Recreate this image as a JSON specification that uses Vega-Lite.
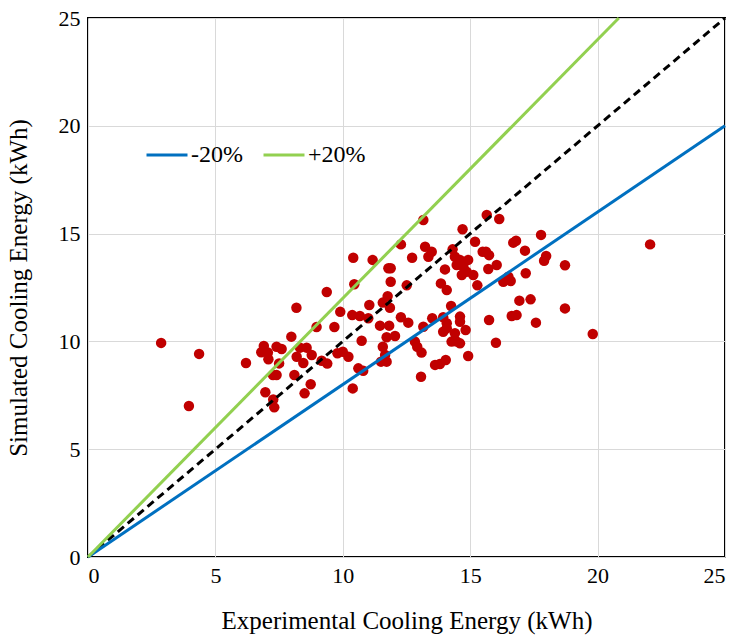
{
  "$schema": "https://vega.github.io/schema/vega-lite/v6.json",
  "width": 637,
  "height": 539,
  "autosize": {"type": "none"},
  "padding": {"left": 88, "top": 18, "right": 15, "bottom": 83},
  "background": "white",
  "config": {
    "view": {"stroke": "black", "strokeWidth": 2},
    "font": "Liberation Serif",
    "axis": {
      "labelFont": "Liberation Serif",
      "titleFont": "Liberation Serif",
      "labelFontSize": 22,
      "titleFontSize": 25,
      "labelColor": "black",
      "titleColor": "black",
      "titleFontWeight": "normal",
      "domain": false,
      "ticks": false,
      "gridColor": "#d9d9d9",
      "gridWidth": 1
    }
  },
  "datasets": {
    "points": [
      {"exp": 2.87, "sim": 9.93}, {"exp": 4.36, "sim": 9.42}, {"exp": 3.96, "sim": 7.0}, {"exp": 6.2, "sim": 9.0},
      {"exp": 6.9, "sim": 9.79}, {"exp": 6.8, "sim": 9.5}, {"exp": 7.06, "sim": 9.48}, {"exp": 7.08, "sim": 9.17},
      {"exp": 7.4, "sim": 9.75}, {"exp": 7.6, "sim": 9.65}, {"exp": 7.5, "sim": 8.98}, {"exp": 7.26, "sim": 8.44},
      {"exp": 7.4, "sim": 8.44}, {"exp": 6.96, "sim": 7.64}, {"exp": 7.27, "sim": 7.31}, {"exp": 7.31, "sim": 6.94},
      {"exp": 7.98, "sim": 10.22}, {"exp": 8.18, "sim": 11.56}, {"exp": 8.19, "sim": 9.29}, {"exp": 8.1, "sim": 8.44},
      {"exp": 8.32, "sim": 9.71}, {"exp": 9.37, "sim": 12.29}, {"exp": 8.97, "sim": 10.67}, {"exp": 9.67, "sim": 10.67},
      {"exp": 9.9, "sim": 11.37}, {"exp": 8.58, "sim": 9.71}, {"exp": 8.78, "sim": 9.37}, {"exp": 8.45, "sim": 9.0},
      {"exp": 8.74, "sim": 8.01}, {"exp": 8.5, "sim": 7.59}, {"exp": 9.17, "sim": 9.1}, {"exp": 9.39, "sim": 8.97},
      {"exp": 9.79, "sim": 9.45}, {"exp": 10.0, "sim": 9.52}, {"exp": 10.22, "sim": 9.29},
      {"exp": 13.16, "sim": 15.63}, {"exp": 14.7, "sim": 15.2}, {"exp": 15.65, "sim": 15.86}, {"exp": 16.14, "sim": 15.68},
      {"exp": 12.28, "sim": 14.5}, {"exp": 13.23, "sim": 14.39}, {"exp": 13.49, "sim": 14.16}, {"exp": 13.36, "sim": 13.93},
      {"exp": 12.72, "sim": 13.88}, {"exp": 14.31, "sim": 14.27}, {"exp": 15.19, "sim": 14.62}, {"exp": 15.49, "sim": 14.16},
      {"exp": 15.74, "sim": 14.0}, {"exp": 16.04, "sim": 13.54}, {"exp": 15.71, "sim": 13.36}, {"exp": 10.41, "sim": 13.88},
      {"exp": 11.17, "sim": 13.78}, {"exp": 11.79, "sim": 13.39}, {"exp": 11.88, "sim": 13.39}, {"exp": 11.88, "sim": 12.77},
      {"exp": 12.51, "sim": 12.6}, {"exp": 14.01, "sim": 13.34}, {"exp": 14.4, "sim": 13.93}, {"exp": 14.6, "sim": 13.78},
      {"exp": 14.47, "sim": 13.54}, {"exp": 14.73, "sim": 13.46}, {"exp": 14.86, "sim": 13.23}, {"exp": 15.12, "sim": 13.08},
      {"exp": 14.67, "sim": 13.08}, {"exp": 14.92, "sim": 13.78}, {"exp": 13.85, "sim": 12.69}, {"exp": 14.08, "sim": 12.38},
      {"exp": 15.28, "sim": 12.6}, {"exp": 10.45, "sim": 12.65}, {"exp": 11.76, "sim": 12.1}, {"exp": 11.57, "sim": 11.8},
      {"exp": 11.85, "sim": 11.56}, {"exp": 11.04, "sim": 11.69}, {"exp": 10.37, "sim": 11.22}, {"exp": 10.67, "sim": 11.18},
      {"exp": 11.0, "sim": 11.07}, {"exp": 12.28, "sim": 11.12}, {"exp": 12.57, "sim": 10.87}, {"exp": 11.46, "sim": 10.73},
      {"exp": 11.82, "sim": 10.73}, {"exp": 10.74, "sim": 10.03}, {"exp": 11.72, "sim": 10.19}, {"exp": 12.05, "sim": 10.25},
      {"exp": 11.57, "sim": 9.75}, {"exp": 11.66, "sim": 9.37}, {"exp": 11.72, "sim": 9.06}, {"exp": 11.5, "sim": 9.06},
      {"exp": 12.83, "sim": 9.99}, {"exp": 12.92, "sim": 9.75}, {"exp": 13.09, "sim": 9.48}, {"exp": 13.16, "sim": 10.68},
      {"exp": 13.51, "sim": 11.07}, {"exp": 13.94, "sim": 11.12}, {"exp": 14.25, "sim": 11.64}, {"exp": 14.6, "sim": 11.15},
      {"exp": 14.6, "sim": 10.91}, {"exp": 14.82, "sim": 10.53}, {"exp": 14.08, "sim": 10.84}, {"exp": 14.08, "sim": 10.61},
      {"exp": 13.94, "sim": 10.45}, {"exp": 14.4, "sim": 10.38}, {"exp": 14.27, "sim": 9.99}, {"exp": 14.47, "sim": 9.99},
      {"exp": 14.6, "sim": 9.91}, {"exp": 14.92, "sim": 9.32}, {"exp": 15.74, "sim": 10.99}, {"exp": 16.01, "sim": 9.94},
      {"exp": 13.62, "sim": 8.91}, {"exp": 13.81, "sim": 8.95}, {"exp": 14.04, "sim": 9.14}, {"exp": 13.07, "sim": 8.36},
      {"exp": 10.61, "sim": 8.75}, {"exp": 10.8, "sim": 8.64}, {"exp": 10.39, "sim": 7.82},
      {"exp": 15.62, "sim": 14.16}, {"exp": 17.78, "sim": 14.94}, {"exp": 16.8, "sim": 14.67}, {"exp": 16.69, "sim": 14.58},
      {"exp": 17.15, "sim": 14.21}, {"exp": 22.06, "sim": 14.5}, {"exp": 17.98, "sim": 13.96}, {"exp": 17.9, "sim": 13.74},
      {"exp": 18.72, "sim": 13.53}, {"exp": 16.5, "sim": 13.0}, {"exp": 16.3, "sim": 12.77}, {"exp": 16.59, "sim": 12.8},
      {"exp": 17.18, "sim": 13.16}, {"exp": 16.93, "sim": 11.89}, {"exp": 17.37, "sim": 11.95}, {"exp": 18.72, "sim": 11.53},
      {"exp": 16.63, "sim": 11.18}, {"exp": 16.82, "sim": 11.22}, {"exp": 17.58, "sim": 10.87}, {"exp": 19.81, "sim": 10.34}
    ],
    "bands": [
      {"series": "-20%", "exp": 0, "sim": 0},
      {"series": "-20%", "exp": 25, "sim": 20},
      {"series": "+20%", "exp": 0, "sim": 0},
      {"series": "+20%", "exp": 20.833, "sim": 25}
    ],
    "identity": [
      {"exp": 0, "sim": 0},
      {"exp": 25, "sim": 25}
    ]
  },
  "layer": [
    {
      "data": {"name": "points"},
      "mark": {"type": "circle", "size": 110, "color": "#C00000", "opacity": 1},
      "encoding": {
        "x": {
          "field": "exp", "type": "quantitative",
          "scale": {"domain": [0, 25], "nice": false, "zero": true},
          "axis": {"values": [0, 5, 10, 15, 20, 25], "title": "Experimental Cooling Energy (kWh)", "labelPadding": 8, "titlePadding": 22}
        },
        "y": {
          "field": "sim", "type": "quantitative",
          "scale": {"domain": [0, 25], "nice": false, "zero": true},
          "axis": {"values": [0, 5, 10, 15, 20, 25], "title": "Simulated Cooling Energy (kWh)", "labelPadding": 8, "titlePadding": 27}
        }
      }
    },
    {
      "data": {"name": "identity"},
      "mark": {"type": "line", "color": "black", "strokeWidth": 3, "strokeDash": [8, 5]},
      "encoding": {
        "x": {"field": "exp", "type": "quantitative"},
        "y": {"field": "sim", "type": "quantitative"}
      }
    },
    {
      "data": {"name": "bands"},
      "mark": {"type": "line", "strokeWidth": 3},
      "encoding": {
        "x": {"field": "exp", "type": "quantitative"},
        "y": {"field": "sim", "type": "quantitative"},
        "color": {
          "field": "series", "type": "nominal",
          "scale": {"domain": ["-20%", "+20%"], "range": ["#0070C0", "#92D050"]},
          "legend": {
            "title": null,
            "orient": "none",
            "legendX": 57,
            "legendY": 115,
            "direction": "horizontal",
            "symbolType": "stroke",
            "symbolStrokeWidth": 3,
            "symbolSize": 1680,
            "labelFont": "Liberation Serif",
            "labelFontSize": 24,
            "labelColor": "black",
            "labelOffset": 2,
            "columnPadding": 14
          }
        }
      }
    }
  ]
}
